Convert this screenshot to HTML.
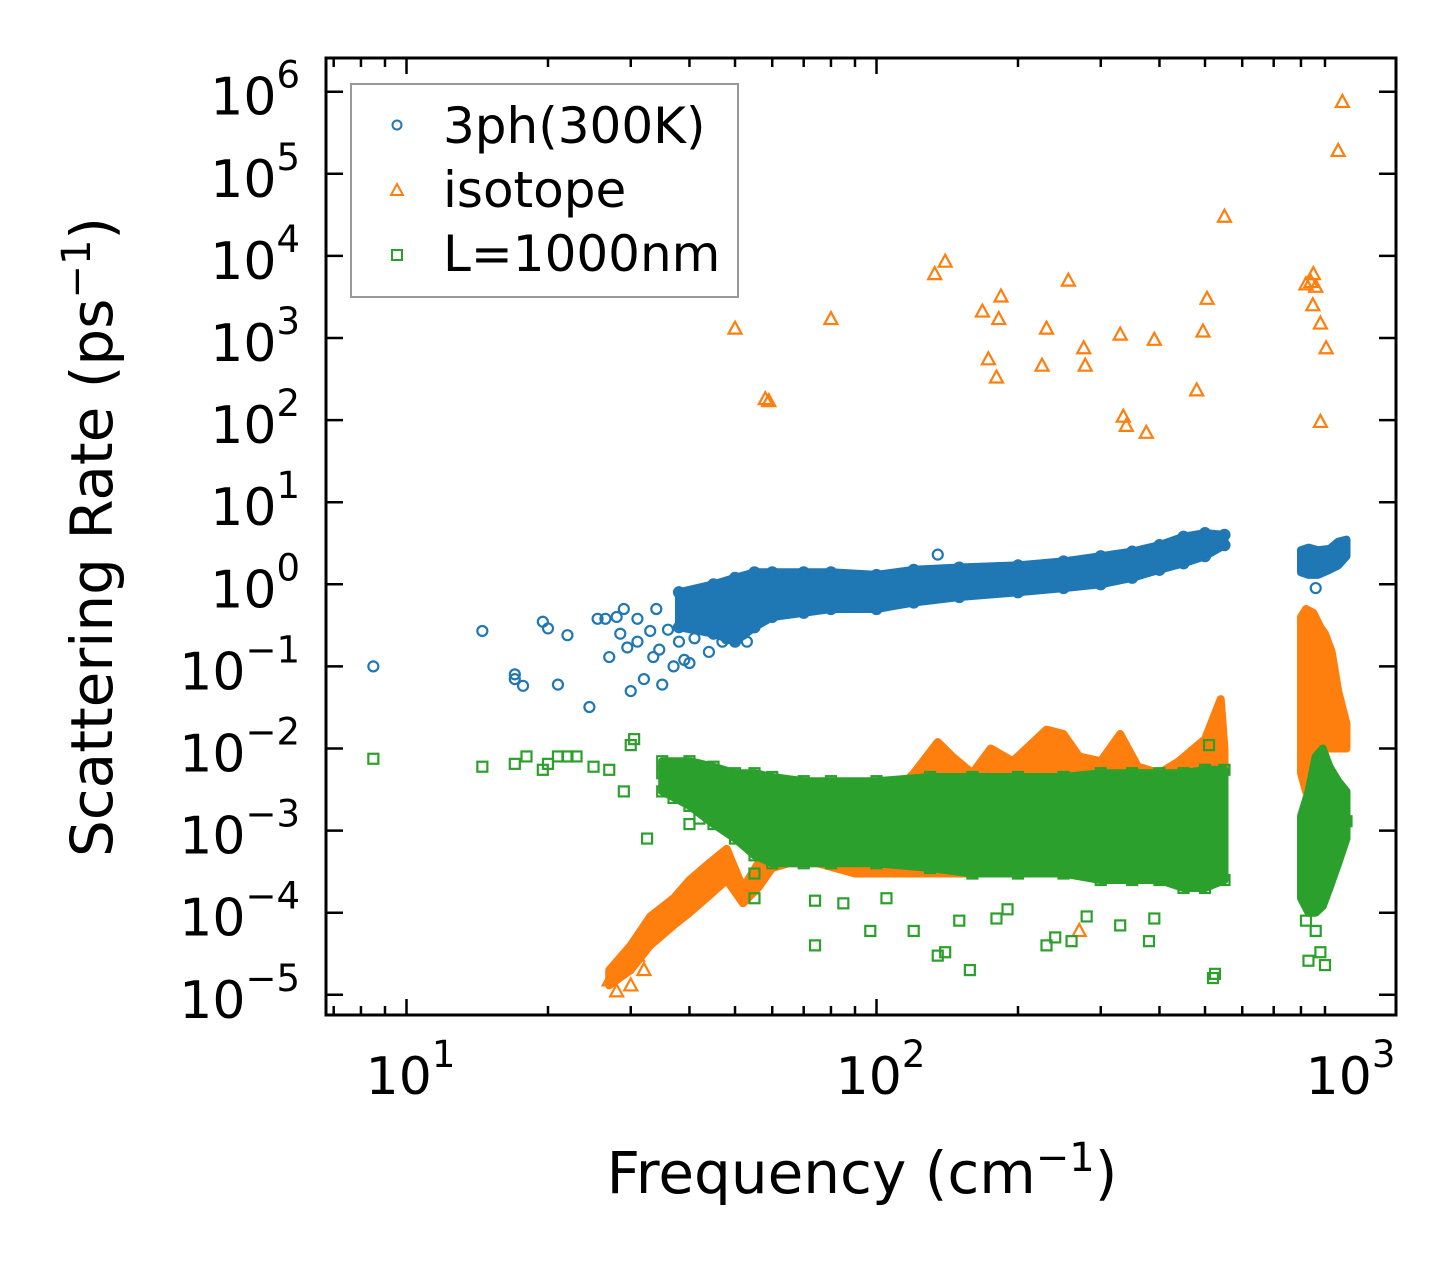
<!DOCTYPE html>
<html><head><meta charset="utf-8"><style>
html,body{margin:0;padding:0;background:#fff;}
svg{display:block;font-family:"DejaVu Sans","Liberation Sans",sans-serif;}
</style></head><body>
<svg id="chart" width="1455" height="1265" viewBox="0 0 1455 1265" xmlns="http://www.w3.org/2000/svg">
<rect width="1455" height="1265" fill="#fff"/>
<g id="bands"></g>
<g id="marks"></g>
<g id="axes"></g>
<g id="legend">
  <rect x="351" y="84" width="387" height="213" fill="#fff" fill-opacity="0.8" stroke="#999" stroke-width="2"/>
  <circle cx="397" cy="125" r="4.5" fill="none" stroke="#1f77b4" stroke-width="2"/>
  <text x="443" y="143" font-size="50">3ph(300K)</text>
  <polygon points="397,184 403,195 391,195" fill="none" stroke="#ff7f0e" stroke-width="2"/>
  <text x="443" y="207" font-size="50">isotope</text>
  <rect x="392" y="250" width="10" height="10" fill="none" stroke="#2ca02c" stroke-width="2"/>
  <text x="443" y="271" font-size="50">L=1000nm</text>
</g>
<text x="862" y="1193" font-size="58" text-anchor="middle">Frequency (cm<tspan dy="-22" font-size="40">−1</tspan><tspan dy="22">)</tspan></text>
<text transform="translate(112,537) rotate(-90)" font-size="58" text-anchor="middle">Scattering Rate (ps<tspan dy="-22" font-size="40">−1</tspan><tspan dy="22">)</tspan></text>
</svg>
<script>
// ---- data ----
const blueFreq = [8.5,14.5,17,17,17.7,19.5,20,21,22,24.5,25.5,26.5,27,28,28.5,29,29.5,30,31,31,32,33,33.5,34,34.5,35,36,37,38,39,40,41,42,45,44,47,48,50,52,53,55,43,46,135,860];
const blueVal  = [0.1,0.27,0.08,0.07,0.058,0.35,0.29,0.06,0.24,0.032,0.38,0.38,0.13,0.4,0.25,0.5,0.17,0.05,0.38,0.2,0.07,0.27,0.13,0.5,0.16,0.06,0.28,0.1,0.2,0.12,0.11,0.22,0.55,0.3,0.15,0.2,0.22,0.3,0.25,0.2,0.3,0.7,0.9,2.3,0.9];
const blueBandFreq = [38,45,50,55,60,70,80,100,120,150,200,250,300,350,400,450,500,550];
const blueBandLo   = [0.3,0.25,0.2,0.3,0.4,0.45,0.5,0.5,0.6,0.7,0.8,0.9,1.0,1.2,1.5,1.8,2.2,3.0];
const blueBandHi   = [0.8,1.0,1.2,1.4,1.4,1.4,1.4,1.3,1.5,1.6,1.7,1.9,2.2,2.5,3.0,3.8,4.2,4.0];
const blueBand2Freq = [800,830,870,920,960,1000];
const blueBand2Lo   = [1.4,1.3,1.3,1.5,1.7,2.2];
const blueBand2Hi   = [2.6,2.8,2.6,2.7,3.3,3.5];

const orangeFreq = [50,58,59,80,133,140,168,173,180,184,182,225,230,256,276,278,330,335,340,375,390,480,495,505,550,820,840,850,848,860,880,880,905,960,980,27,28,29,30,31,32,270];
const orangeVal  = [1300,180,170,1700,6000,8500,2100,550,330,3200,1700,460,1300,5000,750,460,1100,110,85,70,950,230,1200,3000,30000,4500,4800,6000,2500,4200,1500,95,750,190000,750000,1.5e-5,1.1e-5,2.2e-5,1.3e-5,3e-5,2e-5,6e-5];
const orangeBandFreq = [27,30,33,37,40,44,48,52,56,60,65,75,90,110,120,135,145,160,175,195,230,250,270,300,330,360,400,440,500,540,550];
const orangeBandLo   = [1.3e-5,2e-5,4e-5,7e-5,1e-4,1.6e-4,2.5e-4,1.3e-4,2e-4,3.5e-4,4e-4,4e-4,3e-4,3e-4,3e-4,3e-4,3e-4,3e-4,3e-4,3e-4,3e-4,3e-4,3e-4,3e-4,3e-4,3e-4,3e-4,3e-4,3e-4,3e-4,3e-4];
const orangeBandHi   = [2e-5,4e-5,9e-5,1.5e-4,2.5e-4,4e-4,6e-4,2e-4,4e-4,9e-4,1.2e-3,2e-3,2.5e-3,3e-3,5e-3,1.2e-2,8e-3,5e-3,1e-2,7e-3,1.7e-2,1.5e-2,8e-3,7e-3,1.5e-2,6e-3,5e-3,7e-3,1.3e-2,4e-2,1e-2];
const orangeBand2Freq = [800,820,850,880,900,930,960,1000];
const orangeBand2Lo   = [5e-3,3e-3,3e-3,8e-3,1e-2,1e-2,1e-2,1e-2];
const orangeBand2Hi   = [0.4,0.5,0.45,0.3,0.25,0.15,0.05,0.02];

const greenFreq = [8.5,14.5,17,18,19.5,20,21,22,23,25,27,29,30,30.5,32.5,35,37,40,42,55,55,74,74,85,97,105,120,135,140,150,158,180,190,230,240,260,280,330,380,390,520,525,830,880,900,510,1000,820,860];
const greenVal  = [7.5e-3,6e-3,6.5e-3,8e-3,5.5e-3,6.5e-3,8e-3,8e-3,8e-3,6e-3,5.5e-3,3e-3,1.1e-2,1.3e-2,8e-4,5e-3,2.5e-3,1.2e-3,1.4e-3,1.5e-4,3e-4,1.4e-4,4e-5,1.3e-4,6e-5,1.5e-4,6e-5,3e-5,3.3e-5,8e-5,2e-5,8.5e-5,1.1e-4,4e-5,5e-5,4.5e-5,9e-5,7e-5,4.5e-5,8.5e-5,1.6e-5,1.8e-5,2.6e-5,3.3e-5,2.3e-5,1.1e-2,1.3e-3,8e-5,6e-5];
const greenBandFreq = [35,40,45,50,55,60,70,80,100,130,160,200,250,300,350,400,450,500,550];
const greenBandLo   = [3e-3,2e-3,1.2e-3,8e-4,5e-4,4e-4,4e-4,4e-4,4e-4,3.5e-4,3e-4,3e-4,3e-4,2.5e-4,2.5e-4,2.5e-4,2e-4,2e-4,2.5e-4];
const greenBandHi   = [7e-3,7e-3,6e-3,5e-3,5e-3,4.5e-3,4e-3,4e-3,4e-3,4.5e-3,4.5e-3,4.5e-3,4.5e-3,5e-3,5e-3,5e-3,5e-3,5.5e-3,5.5e-3];
const greenBand2Freq = [800,830,860,890,920,960,1000];
const greenBand2Lo   = [1.5e-4,1e-4,1e-4,1.2e-4,2e-4,4e-4,8e-4];
const greenBand2Hi   = [1.5e-3,3e-3,8e-3,1e-2,6e-3,4e-3,3e-3];

const xTickVals = [10,100,1000];
const xTickLabels = ["1","2","3"];
const yTickExps = [6,5,4,3,2,1,0,-1,-2,-3,-4,-5];

// ---- scales ----
const X0 = 326, X1 = 1396, Y0 = 58, Y1 = 1015;
function xs(f){ return 406.5 + 470*(Math.log10(f)-1); }
function ys(v){ return 91.7 + (6-Math.log10(v))*82.1; }
const NS = "http://www.w3.org/2000/svg";
function mk(tag, attrs, parent){
  const el = document.createElementNS(NS, tag);
  for (const k in attrs) el.setAttribute(k, attrs[k]);
  parent.appendChild(el); return el;
}
const bands = document.getElementById('bands');
const marks = document.getElementById('marks');
const axes = document.getElementById('axes');

function band(fr, lo, hi, color, name){
  let pts = [];
  for (let i=0;i<fr.length;i++) pts.push(xs(fr[i]).toFixed(1)+","+ys(hi[i]).toFixed(1));
  for (let i=fr.length-1;i>=0;i--) pts.push(xs(fr[i]).toFixed(1)+","+ys(lo[i]).toFixed(1));
  const p = mk('polygon', {points: pts.join(' '), fill: color, stroke: color, 'stroke-width': 8, 'stroke-linejoin':'round'}, bands);
  
  
}
function marker(type, f, v, color){
  const x = xs(f), y = ys(v);
  let el;
  if (type==='c') el = mk('circle', {cx:x, cy:y, r:5, fill:'none', stroke:color, 'stroke-width':2.2}, marks);
  else if (type==='t') el = mk('polygon', {points:`${x},${y-7} ${x+6.5},${y+5} ${x-6.5},${y+5}`, fill:'none', stroke:color, 'stroke-width':2.2}, marks);
  else el = mk('rect', {x:x-5, y:y-5, width:10, height:10, fill:'none', stroke:color, 'stroke-width':2.2}, marks);
  
  
}
const BLUE='#1f77b4', ORANGE='#ff7f0e', GREEN='#2ca02c';
band(blueBandFreq, blueBandLo, blueBandHi, BLUE, 'band-3ph');
band(blueBand2Freq, blueBand2Lo, blueBand2Hi, BLUE, 'band-3ph-high');
blueFreq.forEach((f,i)=>marker('c', f, blueVal[i], BLUE));
blueBandFreq.forEach((f,i)=>{marker('c',f,blueBandLo[i],BLUE);marker('c',f,blueBandHi[i],BLUE);});
band(orangeBandFreq, orangeBandLo, orangeBandHi, ORANGE, 'band-isotope');
band(orangeBand2Freq, orangeBand2Lo, orangeBand2Hi, ORANGE, 'band-isotope-high');
orangeFreq.forEach((f,i)=>marker('t', f, orangeVal[i], ORANGE));
band(greenBandFreq, greenBandLo, greenBandHi, GREEN, 'band-L1000nm');
band(greenBand2Freq, greenBand2Lo, greenBand2Hi, GREEN, 'band-L1000nm-high');
greenFreq.forEach((f,i)=>marker('s', f, greenVal[i], GREEN));
greenBandFreq.forEach((f,i)=>{marker('s',f,greenBandLo[i],GREEN);marker('s',f,greenBandHi[i],GREEN);});

// ---- axes ----
const frame = mk('rect', {x:X0, y:Y0, width:X1-X0, height:Y1-Y0, fill:'none', stroke:'#000', 'stroke-width':3}, axes);


for (let d=0; d<3; d++){
  for (let m=1; m<10; m++){
    const f = Math.pow(10,d)*m;
    const x = xs(f);
    if (x < X0+1 || x > X1-1) continue;
    const L = m===1 ? 16 : 9;
    const t1 = mk('line', {x1:x, x2:x, y1:Y1, y2:Y1-L, stroke:'#000', 'stroke-width':2.5}, axes);
    
    
    const t2 = mk('line', {x1:x, x2:x, y1:Y0, y2:Y0+L, stroke:'#000', 'stroke-width':2.5}, axes);
    
    
  }
}
xTickVals.forEach((f,i)=>{
  const x = xs(f);
  const t = mk('text', {x:x+4, y:1094, 'font-size':52, 'text-anchor':'middle'}, axes);
  
  
  t.innerHTML = `10<tspan dy="-27" font-size="37">${xTickLabels[i]}</tspan>`;
});
yTickExps.forEach(e=>{
  const y = ys(Math.pow(10,e));
  const a = mk('line', {x1:X0, x2:X0+17, y1:y, y2:y, stroke:'#000', 'stroke-width':2.5}, axes);
  
  
  const b = mk('line', {x1:X1, x2:X1-17, y1:y, y2:y, stroke:'#000', 'stroke-width':2.5}, axes);
  
  
  const t = mk('text', {x:300, y:y+23, 'font-size':52, 'text-anchor':'end'}, axes);
  
  
  const lab = e<0 ? '−'+(-e) : ''+e;
  t.innerHTML = `10<tspan dy="-27" font-size="37">${lab}</tspan>`;
});
</script>
</body></html>
